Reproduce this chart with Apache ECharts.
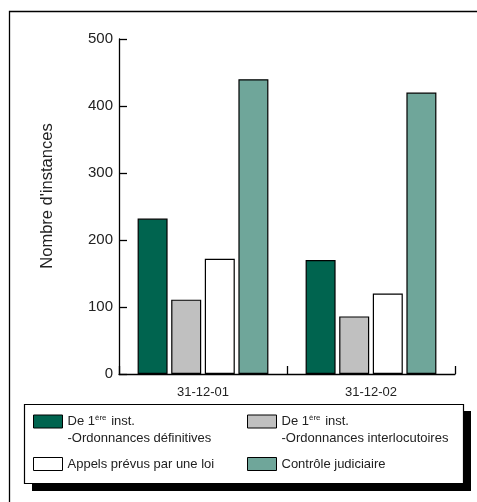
<!DOCTYPE html>
<html>
<head>
<meta charset="utf-8">
<style>
  html, body { margin: 0; padding: 0; background: #fff; }
  #chart { width: 477px; height: 502px; }
</style>
<script src="https://cdn.jsdelivr.net/npm/echarts@6/dist/echarts.min.js"></script>
</head>
<body>
<div id="chart"></div>
<script>
// Dates of the two snapshots
const categories = ['31-12-01', '31-12-02'];

// Series names (the legend adds the superscript)
const seriesNames = [
  'De 1ère inst. -Ordonnances définitives',
  'De 1ère inst. -Ordonnances interlocutoires',
  'Appels prévus par une loi',
  'Contrôle judiciaire'
];

// Number of cases per series
const ordDefinitives = [232, 170];
const ordInterlocutoires = [111, 86];
const appelsLoi = [172, 120];
const controleJudiciaire = [440, 420];

const yTicks = [0, 100, 200, 300, 400, 500];

const colors = ['#00644f', '#c0c0c0', '#ffffff', '#6fa69a'];
const FONT = 'Arial, "Liberation Sans", Helvetica, sans-serif';
const TEXT = '#222';

const values = [ordDefinitives, ordInterlocutoires, appelsLoi, controleJudiciaire];

const chart = echarts.init(document.getElementById('chart'), null, { renderer: 'canvas' });

function legendLabel(name) {
  if (name.indexOf('De 1ère inst.') === 0) {
    const rest = name.replace('De 1ère inst. ', '');
    return '{t|De 1}{s|ère}{t| inst.}\n{t|' + rest + '}';
  }
  return '{t|' + name + '}';
}

const richText = {
  t: { fontSize: 13, lineHeight: 17, fontFamily: FONT, color: TEXT },
  s: { fontSize: 8, lineHeight: 13, fontFamily: FONT, color: TEXT, verticalAlign: 'top', padding: [1, 1, 0, 0] }
};

// One legend block per entry so the two columns line up
function legendBlock(idx, left, centerY, twoLines) {
  return {
    data: [seriesNames[idx]],
    left: left,
    top: twoLines ? centerY - 8 : centerY - 7,
    padding: 0,
    icon: 'rect',
    itemWidth: 29,
    itemHeight: 13,
    itemStyle: { borderColor: '#000', borderWidth: 1 },
    selectedMode: false,
    formatter: legendLabel,
    textStyle: {
      fontFamily: FONT,
      fontSize: 13,
      color: TEXT,
      padding: twoLines ? [17, 0, 0, 0] : 0,
      rich: richText
    }
  };
}

const option = {
  backgroundColor: '#fff',
  animation: false,
  grid: { left: 119, top: 39, right: 22, bottom: 128, containLabel: false },
  xAxis: {
    type: 'category',
    data: categories,
    boundaryGap: true,
    axisLine: { show: true, lineStyle: { color: '#000', width: 1.3 } },
    axisTick: { show: true, inside: true, length: 8, alignWithLabel: false, lineStyle: { color: '#000', width: 1.3 } },
    axisLabel: { margin: 12, fontSize: 13, fontFamily: FONT, color: TEXT },
    splitLine: { show: false }
  },
  yAxis: {
    type: 'value',
    min: yTicks[0],
    max: yTicks[yTicks.length - 1],
    interval: 100,
    axisLine: { show: true, lineStyle: { color: '#000', width: 1.3 } },
    axisTick: { show: true, inside: true, length: 8, lineStyle: { color: '#000', width: 1.3 } },
    axisLabel: { margin: 6, fontSize: 15, fontFamily: FONT, color: TEXT },
    splitLine: { show: false }
  },
  legend: [
    legendBlock(0, 33, 421, true),
    legendBlock(2, 33, 464, false),
    legendBlock(1, 247, 421, true),
    legendBlock(3, 247, 464, false)
  ],
  series: seriesNames.map((name, i) => ({
    name: name,
    type: 'bar',
    data: values[i],
    barWidth: 30,
    barGap: '12%',
    itemStyle: { color: colors[i], borderColor: '#000', borderWidth: 1.2 },
    emphasis: { disabled: true }
  })),
  graphic: [
    // outer frame
    {
      type: 'rect', z: -10, silent: true,
      shape: { x: 9.5, y: 11.5, width: 490, height: 510 },
      style: { fill: 'none', stroke: '#000', lineWidth: 1.3 }
    },
    // legend box shadow
    {
      type: 'rect', z: -5, silent: true,
      shape: { x: 32, y: 411, width: 439, height: 80 },
      style: { fill: '#000' }
    },
    // legend box
    {
      type: 'rect', z: -4, silent: true,
      shape: { x: 24.5, y: 404.5, width: 439, height: 79 },
      style: { fill: '#fff', stroke: '#000', lineWidth: 1.2 }
    },
    // y-axis title
    {
      type: 'text', silent: true,
      x: 47, y: 196, rotation: Math.PI / 2,
      style: {
        text: "Nombre d'instances",
        font: '16.5px ' + FONT,
        fill: TEXT,
        textAlign: 'center',
        textVerticalAlign: 'middle'
      }
    }
  ]
};

chart.setOption(option);
</script>
</body>
</html>
